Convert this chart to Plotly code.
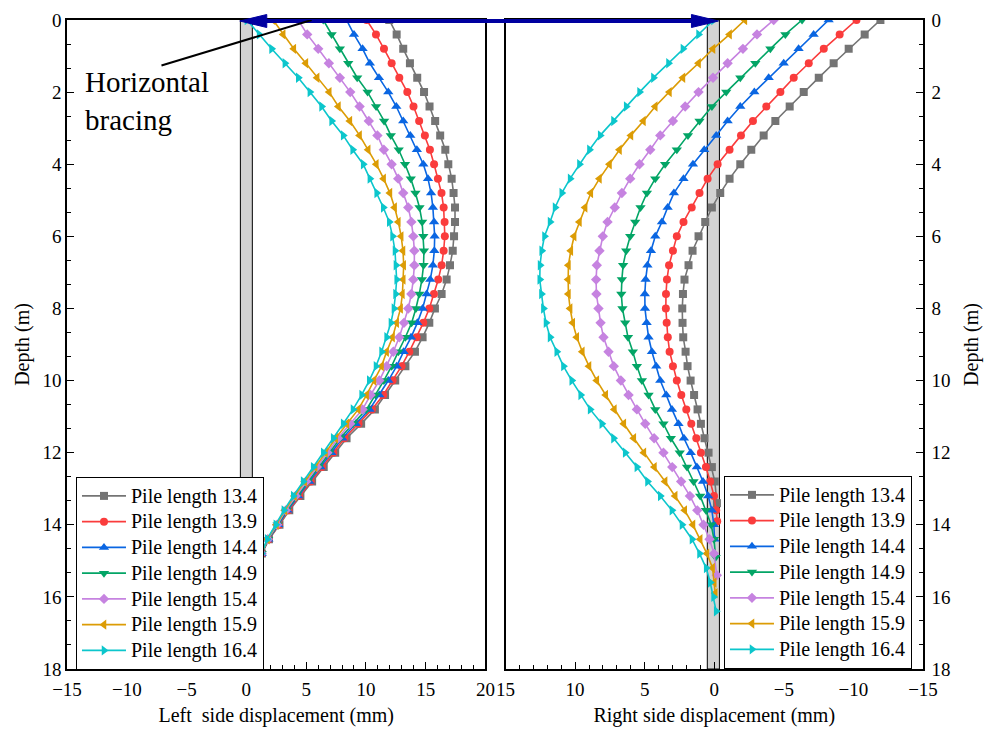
import plotly.graph_objects as go

# ---------------- data ----------------
DEPTH_GRID = [0.0, 0.4, 0.8, 1.2, 1.6, 2.0, 2.4, 2.8, 3.2, 3.6, 4.0, 4.4, 4.8, 5.2,
              5.6, 6.0, 6.4, 6.8, 7.2, 7.6, 8.0, 8.4, 8.8, 9.2, 9.6, 10.0, 10.4,
              10.8, 11.2, 11.6, 12.0, 12.4, 12.8, 13.2, 13.6, 14.0, 14.4, 14.8,
              15.2, 15.6, 16.0, 16.4]
LEFT_END_DEPTH = 14.8
PILE_LENGTHS = [13.4, 13.9, 14.4, 14.9, 15.4, 15.9, 16.4]
LABELS = ["Pile length 13.4", "Pile length 13.9", "Pile length 14.4",
          "Pile length 14.9", "Pile length 15.4", "Pile length 15.9",
          "Pile length 16.4"]

# Left side displacement (mm), depth 0 ... 14.8 m every 0.4 m
LEFT_134 = [11.95, 12.57, 13.12, 13.68, 14.29, 14.86, 15.32, 15.79, 16.21, 16.64,
            16.89, 17.17, 17.33, 17.45, 17.45, 17.37, 17.26, 17.03, 16.75, 16.33,
            15.77, 15.30, 14.74, 14.10, 13.30, 12.45, 11.60, 10.75, 9.60, 8.38,
            7.43, 6.47, 5.50, 4.52, 3.59, 2.77, 1.89, 1.30]
LEFT_139 = [10.06, 10.84, 11.51, 12.15, 12.79, 13.46, 13.98, 14.45, 14.93, 15.35,
            15.70, 16.02, 16.32, 16.50, 16.58, 16.60, 16.50, 16.33, 16.05, 15.69,
            15.30, 14.80, 14.24, 13.63, 12.98, 12.23, 11.45, 10.50, 9.38, 8.20,
            7.27, 6.33, 5.38, 4.42, 3.52, 2.72, 1.87, 1.30]
LEFT_144 = [8.38, 9.00, 9.72, 10.33, 11.09, 11.87, 12.54, 13.12, 13.71, 14.26,
            14.80, 15.19, 15.45, 15.60, 15.70, 15.75, 15.72, 15.60, 15.38, 15.08,
            14.74, 14.30, 13.77, 13.15, 12.57, 11.87, 11.12, 10.30, 9.15, 8.02,
            7.10, 6.19, 5.26, 4.32, 3.44, 2.67, 1.84, 1.29]
LEFT_149 = [6.43, 7.13, 7.82, 8.52, 9.27, 10.14, 10.85, 11.52, 12.08, 12.74,
            13.27, 13.75, 14.14, 14.48, 14.70, 14.80, 14.85, 14.82, 14.68, 14.46,
            14.18, 13.82, 13.30, 12.71, 12.15, 11.50, 10.80, 10.05, 8.92, 7.84,
            6.95, 6.05, 5.13, 4.22, 3.37, 2.62, 1.82, 1.29]
LEFT_154 = [4.34, 5.09, 6.01, 6.90, 7.82, 8.69, 9.47, 10.24, 10.96, 11.50,
            12.15, 12.70, 13.12, 13.54, 13.80, 13.96, 14.05, 14.05, 13.96, 13.80,
            13.54, 13.18, 12.79, 12.29, 11.73, 11.12, 10.39, 9.72, 8.68, 7.66,
            6.78, 5.90, 5.00, 4.12, 3.29, 2.57, 1.79, 1.28]
LEFT_159 = [2.24, 3.08, 3.97, 4.98, 5.92, 6.93, 7.70, 8.66, 9.47, 10.19,
            10.87, 11.48, 12.01, 12.40, 12.71, 12.95, 13.10, 13.16, 13.12, 13.05,
            12.90, 12.57, 12.23, 11.73, 11.31, 10.67, 10.06, 9.36, 8.40, 7.47,
            6.62, 5.75, 4.88, 4.02, 3.22, 2.52, 1.77, 1.28]
LEFT_164 = [0.05, 1.07, 2.11, 3.22, 4.34, 5.31, 6.29, 7.13, 8.10, 8.89,
            9.77, 10.33, 10.90, 11.45, 11.95, 12.23, 12.43, 12.51, 12.57, 12.48,
            12.34, 12.09, 11.73, 11.31, 10.84, 10.28, 9.64, 8.92, 8.10, 7.26,
            6.43, 5.59, 4.75, 3.92, 3.14, 2.47, 1.74, 1.27]

# Right side displacement (mm), depth every 0.4 m, last value at the pile toe
RIGHT_134 = [-11.94, -10.81, -9.66, -8.58, -7.51, -6.43, -5.42, -4.39, -3.55, -2.66,
             -1.87, -1.10, -0.43, 0.17, 0.65, 1.13, 1.56, 1.85, 2.14, 2.25,
             2.30, 2.28, 2.23, 2.06, 1.92, 1.70, 1.45, 1.20, 0.96, 0.70,
             0.41, 0.17, -0.04, -0.19]
RIGHT_139 = [-10.22, -9.01, -7.87, -6.79, -5.71, -4.75, -3.74, -2.78, -1.92, -1.10,
             -0.24, 0.48, 1.06, 1.62, 2.21, 2.69, 2.97, 3.25, 3.40, 3.47,
             3.48, 3.42, 3.34, 3.21, 2.97, 2.69, 2.37, 2.01, 1.65, 1.29,
             0.96, 0.60, 0.29, 0.02, -0.14, -0.21]
RIGHT_144 = [-8.22, -7.14, -6.06, -4.99, -3.91, -2.88, -1.87, -0.96, -0.14, 0.72,
             1.53, 2.21, 2.90, 3.35, 3.76, 4.24, 4.55, 4.80, 4.93, 4.99,
             4.98, 4.86, 4.72, 4.48, 4.17, 3.88, 3.45, 3.04, 2.57, 2.18,
             1.69, 1.25, 0.81, 0.44, 0.17, 0.03, -0.02]
RIGHT_149 = [-6.31, -5.11, -4.03, -2.95, -1.87, -0.86, 0.17, 1.06, 1.89, 2.69,
             3.53, 4.24, 4.84, 5.30, 5.68, 6.04, 6.33, 6.55, 6.64, 6.68,
             6.60, 6.40, 6.20, 5.85, 5.56, 5.20, 4.72, 4.24, 3.65, 3.12,
             2.48, 1.96, 1.49, 1.01, 0.60, 0.22, 0.02, -0.10]
RIGHT_154 = [-4.27, -3.07, -2.06, -0.96, 0.09, 1.13, 2.09, 2.97, 3.88, 4.60,
             5.37, 6.04, 6.64, 7.15, 7.67, 8.01, 8.25, 8.44, 8.49, 8.47,
             8.32, 8.17, 7.96, 7.60, 7.22, 6.71, 6.16, 5.56, 4.96, 4.32,
             3.65, 3.02, 2.38, 1.75, 1.22, 0.77, 0.34, 0.02, -0.18]
RIGHT_159 = [-2.20, -1.10, 0.09, 1.13, 2.25, 3.22, 4.24, 5.09, 5.99, 6.81,
             7.53, 8.25, 8.87, 9.28, 9.69, 10.07, 10.31, 10.48, 10.50, 10.48,
             10.36, 10.17, 9.88, 9.48, 9.00, 8.44, 7.80, 7.18, 6.50, 5.78,
             5.06, 4.30, 3.53, 2.81, 2.12, 1.53, 1.01, 0.53, 0.12, 0.00, -0.07]
RIGHT_164 = [0.05, 1.13, 2.25, 3.29, 4.37, 5.37, 6.33, 7.24, 8.20, 8.97,
             9.69, 10.36, 10.96, 11.44, 11.80, 12.20, 12.40, 12.52, 12.54, 12.42,
             12.28, 12.09, 11.80, 11.32, 10.84, 10.24, 9.60, 8.92, 8.08, 7.24,
             6.40, 5.56, 4.80, 3.88, 3.04, 2.32, 1.60, 1.06, 0.58, 0.29, 0.05, -0.14]

LEFT_SERIES = [LEFT_134, LEFT_139, LEFT_144, LEFT_149, LEFT_154, LEFT_159, LEFT_164]
RIGHT_SERIES = [RIGHT_134, RIGHT_139, RIGHT_144, RIGHT_149, RIGHT_154, RIGHT_159, RIGHT_164]

# ---------------- styles ----------------
COLORS = ["#747474", "#FA3C3C", "#0A66E2", "#03A566", "#C683E0", "#DC9C05", "#0CC6CC"]
SYMBOLS = ["square", "circle", "triangle-up", "triangle-down", "diamond",
           "triangle-left", "triangle-right"]
FONT = "'Liberation Serif', 'Times New Roman', Times, serif"

# page body has an 8 px margin, so the figure is sized to fit inside the window
FIG_W, FIG_H = 977, 719
M_L, M_R, M_T, M_B = 59, 62, 12, 58

LEFT_DOMAIN = [0.0, 0.4889]
RIGHT_DOMAIN = [0.5123, 1.0]
LEFT_RANGE = [-15, 20]
RIGHT_RANGE = [15, -15]
DEPTH_RANGE = [18, 0]


def legend_name(label):
    return "<span style='font-size:20px'>" + label + "</span>"


fig = go.Figure()

left_depth = [d for d in DEPTH_GRID if d <= LEFT_END_DEPTH + 1e-9]
for i in range(7):
    fig.add_trace(go.Scatter(
        x=LEFT_SERIES[i], y=left_depth[:len(LEFT_SERIES[i])], xaxis="x", yaxis="y",
        mode="lines+markers", name=legend_name(LABELS[i]), legend="legend",
        line=dict(color=COLORS[i], width=1.6),
        marker=dict(symbol=SYMBOLS[i], size=9 if "triangle" in SYMBOLS[i] else 8,
                    color=COLORS[i], line=dict(width=0)),
    ))

for i in range(7):
    vals = RIGHT_SERIES[i]
    depth = DEPTH_GRID[:len(vals) - 1] + [PILE_LENGTHS[i]]
    fig.add_trace(go.Scatter(
        x=vals, y=depth, xaxis="x2", yaxis="y2",
        mode="lines+markers", name=legend_name(LABELS[i]), legend="legend2",
        line=dict(color=COLORS[i], width=1.6),
        marker=dict(symbol=SYMBOLS[i], size=9 if "triangle" in SYMBOLS[i] else 8,
                    color=COLORS[i], line=dict(width=0)),
    ))

axis_common = dict(
    showline=True, linecolor="black", linewidth=1.5, mirror=True,
    ticks="inside", ticklen=7, tickwidth=1.2, tickcolor="black",
    showgrid=False, zeroline=False, automargin=False,
    tickfont=dict(family=FONT, size=19, color="black"),
)
title_font = dict(family=FONT, size=20, color="black")

legend_common = dict(xanchor="left", yanchor="top", bgcolor="white",
                     bordercolor="black", borderwidth=1, itemwidth=44,
                     font=dict(family=FONT, size=17.5, color="black"), tracegroupgap=0)

fig.update_layout(
    width=FIG_W, height=FIG_H,
    margin=dict(l=M_L, r=M_R, t=M_T, b=M_B, autoexpand=False),
    paper_bgcolor="white", plot_bgcolor="white",
    font=dict(family=FONT, color="black"),
    xaxis=dict(domain=LEFT_DOMAIN, range=LEFT_RANGE, anchor="y", dtick=5, tick0=0,
               minor=dict(dtick=1, ticks="inside", ticklen=4, tickcolor="black"),
               ticklabelstandoff=2,
               title=dict(text="Left\u00a0 side displacement (mm)", standoff=19, font=title_font),
               **axis_common),
    yaxis=dict(domain=[0, 1], range=DEPTH_RANGE, anchor="x", dtick=2, tick0=0,
               minor=dict(dtick=2 / 3, ticks="inside", ticklen=4, tickcolor="black"),
               title=dict(text="Depth (m)", standoff=7, font=title_font),
               **axis_common),
    xaxis2=dict(domain=RIGHT_DOMAIN, range=RIGHT_RANGE, anchor="y2", dtick=5, tick0=0,
                minor=dict(dtick=1, ticks="inside", ticklen=4, tickcolor="black"),
                ticklabelstandoff=2,
                title=dict(text="Right side displacement (mm)", standoff=19, font=title_font),
                **axis_common),
    yaxis2=dict(domain=[0, 1], range=DEPTH_RANGE, anchor="x2", side="right", dtick=2, tick0=0,
                minor=dict(dtick=2 / 3, ticks="inside", ticklen=4, tickcolor="black"),
                ticklabelstandoff=3,
                title=dict(text="Depth (m)", standoff=14, font=title_font),
                **axis_common),
    legend=dict(x=0.0105, y=0.2958, **legend_common),
    legend2=dict(x=0.7675, y=0.2974, **legend_common),
)

# pile (grey band) in each panel
fig.add_shape(type="rect", xref="x", yref="y", x0=-0.5, x1=0.5, y0=0, y1=18,
              fillcolor="#D3D3D3", line=dict(color="black", width=1), layer="below")
fig.add_shape(type="rect", xref="x2", yref="y2", x0=0.5, x1=-0.37, y0=0, y1=18,
              fillcolor="#D3D3D3", line=dict(color="black", width=1), layer="below")

# horizontal bracing double arrow (paper coords derived from the axes)
PLOT_W = FIG_W - M_L - M_R
PLOT_H = FIG_H - M_T - M_B


def paper_left(v):
    return LEFT_DOMAIN[0] + (v - LEFT_RANGE[0]) / (LEFT_RANGE[1] - LEFT_RANGE[0]) * (LEFT_DOMAIN[1] - LEFT_DOMAIN[0])


def paper_right(v):
    return RIGHT_DOMAIN[0] + (v - RIGHT_RANGE[0]) / (RIGHT_RANGE[1] - RIGHT_RANGE[0]) * (RIGHT_DOMAIN[1] - RIGHT_DOMAIN[0])


ARROW_COLOR = "#0000A0"
xa = paper_left(-0.55)
xb = paper_right(-0.3)
head_len = 27 / PLOT_W
head_half = 6.5 / PLOT_H
ya = 1.0 - 1.0 / PLOT_H
fig.add_shape(type="line", xref="paper", yref="paper", x0=xa + head_len * 0.8, x1=xb - head_len * 0.8,
              y0=ya, y1=ya, line=dict(color=ARROW_COLOR, width=4), layer="above")
fig.add_shape(type="path", xref="paper", yref="paper",
              path=f"M {xa},{ya} L {xa + head_len},{ya + head_half} L {xa + head_len},{ya - head_half} Z",
              fillcolor=ARROW_COLOR, line=dict(color=ARROW_COLOR, width=1), layer="above")
fig.add_shape(type="path", xref="paper", yref="paper",
              path=f"M {xb},{ya} L {xb - head_len},{ya + head_half} L {xb - head_len},{ya - head_half} Z",
              fillcolor=ARROW_COLOR, line=dict(color=ARROW_COLOR, width=1), layer="above")

# "Horizontal bracing" label with leader line
fig.add_shape(type="line", xref="x", yref="y", x0=-7.1, y0=1.26, x1=5.46, y1=0.0,
              line=dict(color="black", width=2), layer="above")
fig.add_annotation(xref="x", yref="y", x=-13.7, y=2.26, xanchor="left", yanchor="middle",
                   text="Horizontal<br>bracing", showarrow=False, align="left",
                   font=dict(family=FONT, size=29, color="black"))

fig.write_html("out.html")
